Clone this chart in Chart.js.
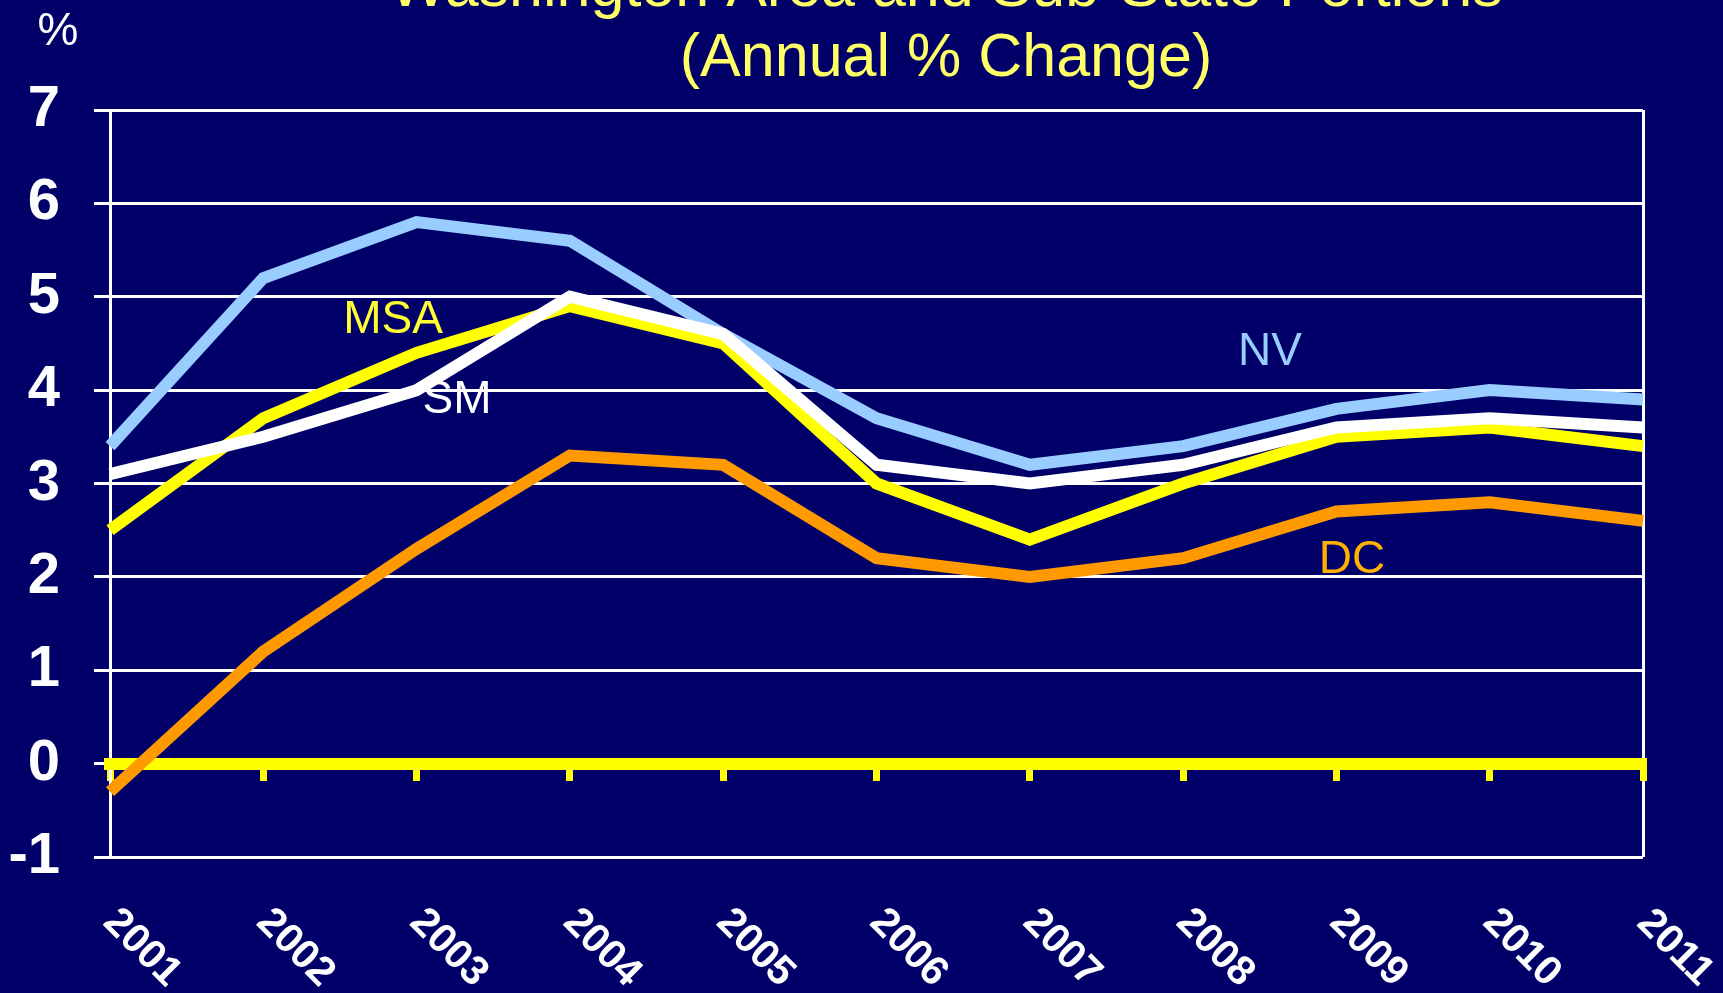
<!DOCTYPE html>
<html>
<head>
<meta charset="utf-8">
<script src="https://cdn.jsdelivr.net/npm/chart.js@4.4.0/dist/chart.umd.min.js"></script>
<style>
  html, body { margin: 0; padding: 0; background: #000068; }
  #wrap { width: 1723px; height: 993px; }
</style>
</head>
<body>
<div id="wrap"><canvas id="chart" width="1723" height="993"></canvas></div>
<script>
// values
const years = ['2001', '2002', '2003', '2004', '2005', '2006', '2007', '2008', '2009', '2010', '2011'];
const nvValues  = [3.4, 5.2, 5.8, 5.6, 4.6, 3.7, 3.2, 3.4, 3.8, 4.0, 3.9];
const smValues  = [3.1, 3.5, 4.0, 5.0, 4.6, 3.2, 3.0, 3.2, 3.6, 3.7, 3.6];
const msaValues = [2.5, 3.7, 4.4, 4.9, 4.5, 3.0, 2.4, 3.0, 3.5, 3.6, 3.4];
const dcValues  = [-0.3, 1.2, 2.3, 3.3, 3.2, 2.2, 2.0, 2.2, 2.7, 2.8, 2.6];
const yMin = -1, yMax = 7, yStep = 1;
const titleLines = ['Washington Area and Sub-State Portions', '(Annual % Change)'];

const FONT = '"Liberation Sans", Arial, sans-serif';

// title, % sign, rotated year labels and series names
const textPlugin = {
  id: 'texts',
  afterDraw(chart) {
    const ctx = chart.ctx;
    const xs = chart.scales.x;
    ctx.save();
    ctx.fillStyle = '#FFFF66';
    ctx.font = '61px ' + FONT;
    ctx.textAlign = 'center';
    ctx.textBaseline = 'alphabetic';
    ctx.fillText(titleLines[0], 946, 6);
    ctx.fillText(titleLines[1], 946, 76);

    ctx.fillStyle = '#ffffff';
    ctx.font = '46px ' + FONT;
    ctx.textBaseline = 'middle';
    ctx.fillText('%', 58, 32);

    // year labels, turned clockwise
    ctx.font = 'bold 41px ' + FONT;
    years.forEach((y, i) => {
      const px = xs.getPixelForValue(i);
      ctx.save();
      ctx.translate(px + 32, 948);
      ctx.rotate(Math.PI / 4);
      ctx.textAlign = 'center';
      ctx.textBaseline = 'middle';
      ctx.fillText(y, 0, 0);
      ctx.restore();
    });

    ctx.font = '46px ' + FONT;
    ctx.textBaseline = 'alphabetic';
    ctx.fillStyle = '#FFFF33';
    ctx.fillText('MSA', 393, 333);
    ctx.fillStyle = '#ffffff';
    ctx.fillText('SM', 457, 413);
    ctx.fillStyle = '#99CCFF';
    ctx.fillText('NV', 1270, 365);
    ctx.fillStyle = '#FFB000';
    ctx.fillText('DC', 1352, 573);
    ctx.restore();
  }
};

new Chart(document.getElementById('chart'), {
  type: 'line',
  data: {
    labels: years,
    datasets: [
      { label: 'DC',  data: dcValues,  borderColor: '#FF9900', order: 1 },
      { label: 'SM',  data: smValues,  borderColor: '#FFFFFF', order: 2 },
      { label: 'MSA', data: msaValues, borderColor: '#FFFF00', order: 3 },
      { label: 'NV',  data: nvValues,  borderColor: '#99CCFF', order: 4 }
    ].map(d => Object.assign(d, {
      xAxisID: 'x', yAxisID: 'y',
      borderWidth: 12, pointRadius: 0, tension: 0, fill: false,
      borderJoinStyle: 'miter', borderCapStyle: 'butt'
    }))
  },
  options: {
    responsive: false,
    animation: false,
    layout: { padding: { top: 110, right: 80, bottom: 0, left: 0 } },
    plugins: {
      legend: { display: false },
      title: { display: false },
      tooltip: { enabled: false }
    },
    scales: {
      y: {
        type: 'linear',
        position: 'left',
        min: yMin,
        max: yMax,
        grid: { color: '#ffffff', lineWidth: 3, tickLength: 16, z: -1 },
        border: { color: '#ffffff', width: 3 },
        ticks: {
          stepSize: yStep,
          color: '#ffffff',
          padding: 34,
          font: { family: FONT, size: 58, weight: 'bold' }
        },
        afterFit(scale) { scale.width = 110; }
      },
      x: {
        type: 'category',
        position: 'bottom',
        offset: false,
        grid: {
          color: (c) => (c.index === 0 || c.index === years.length - 1) ? '#ffffff' : 'rgba(0,0,0,0)',
          lineWidth: 3,
          drawTicks: false,
          offset: false
        },
        border: { display: false },
        ticks: { display: false, autoSkip: false },
        afterFit(scale) { scale.height = 136; }
      },
      // the yellow zero line with its tick marks
      x2: {
        type: 'category',
        axis: 'x',
        labels: years,
        position: { y: 0 },
        offset: false,
        grid: {
          drawOnChartArea: false,
          color: '#FFFF00',
          lineWidth: 7,
          tickLength: 11,
          offset: false
        },
        border: { color: '#FFFF00', width: 12 },
        ticks: { display: false, autoSkip: false }
      }
    }
  },
  plugins: [textPlugin]
});
</script>
</body>
</html>
